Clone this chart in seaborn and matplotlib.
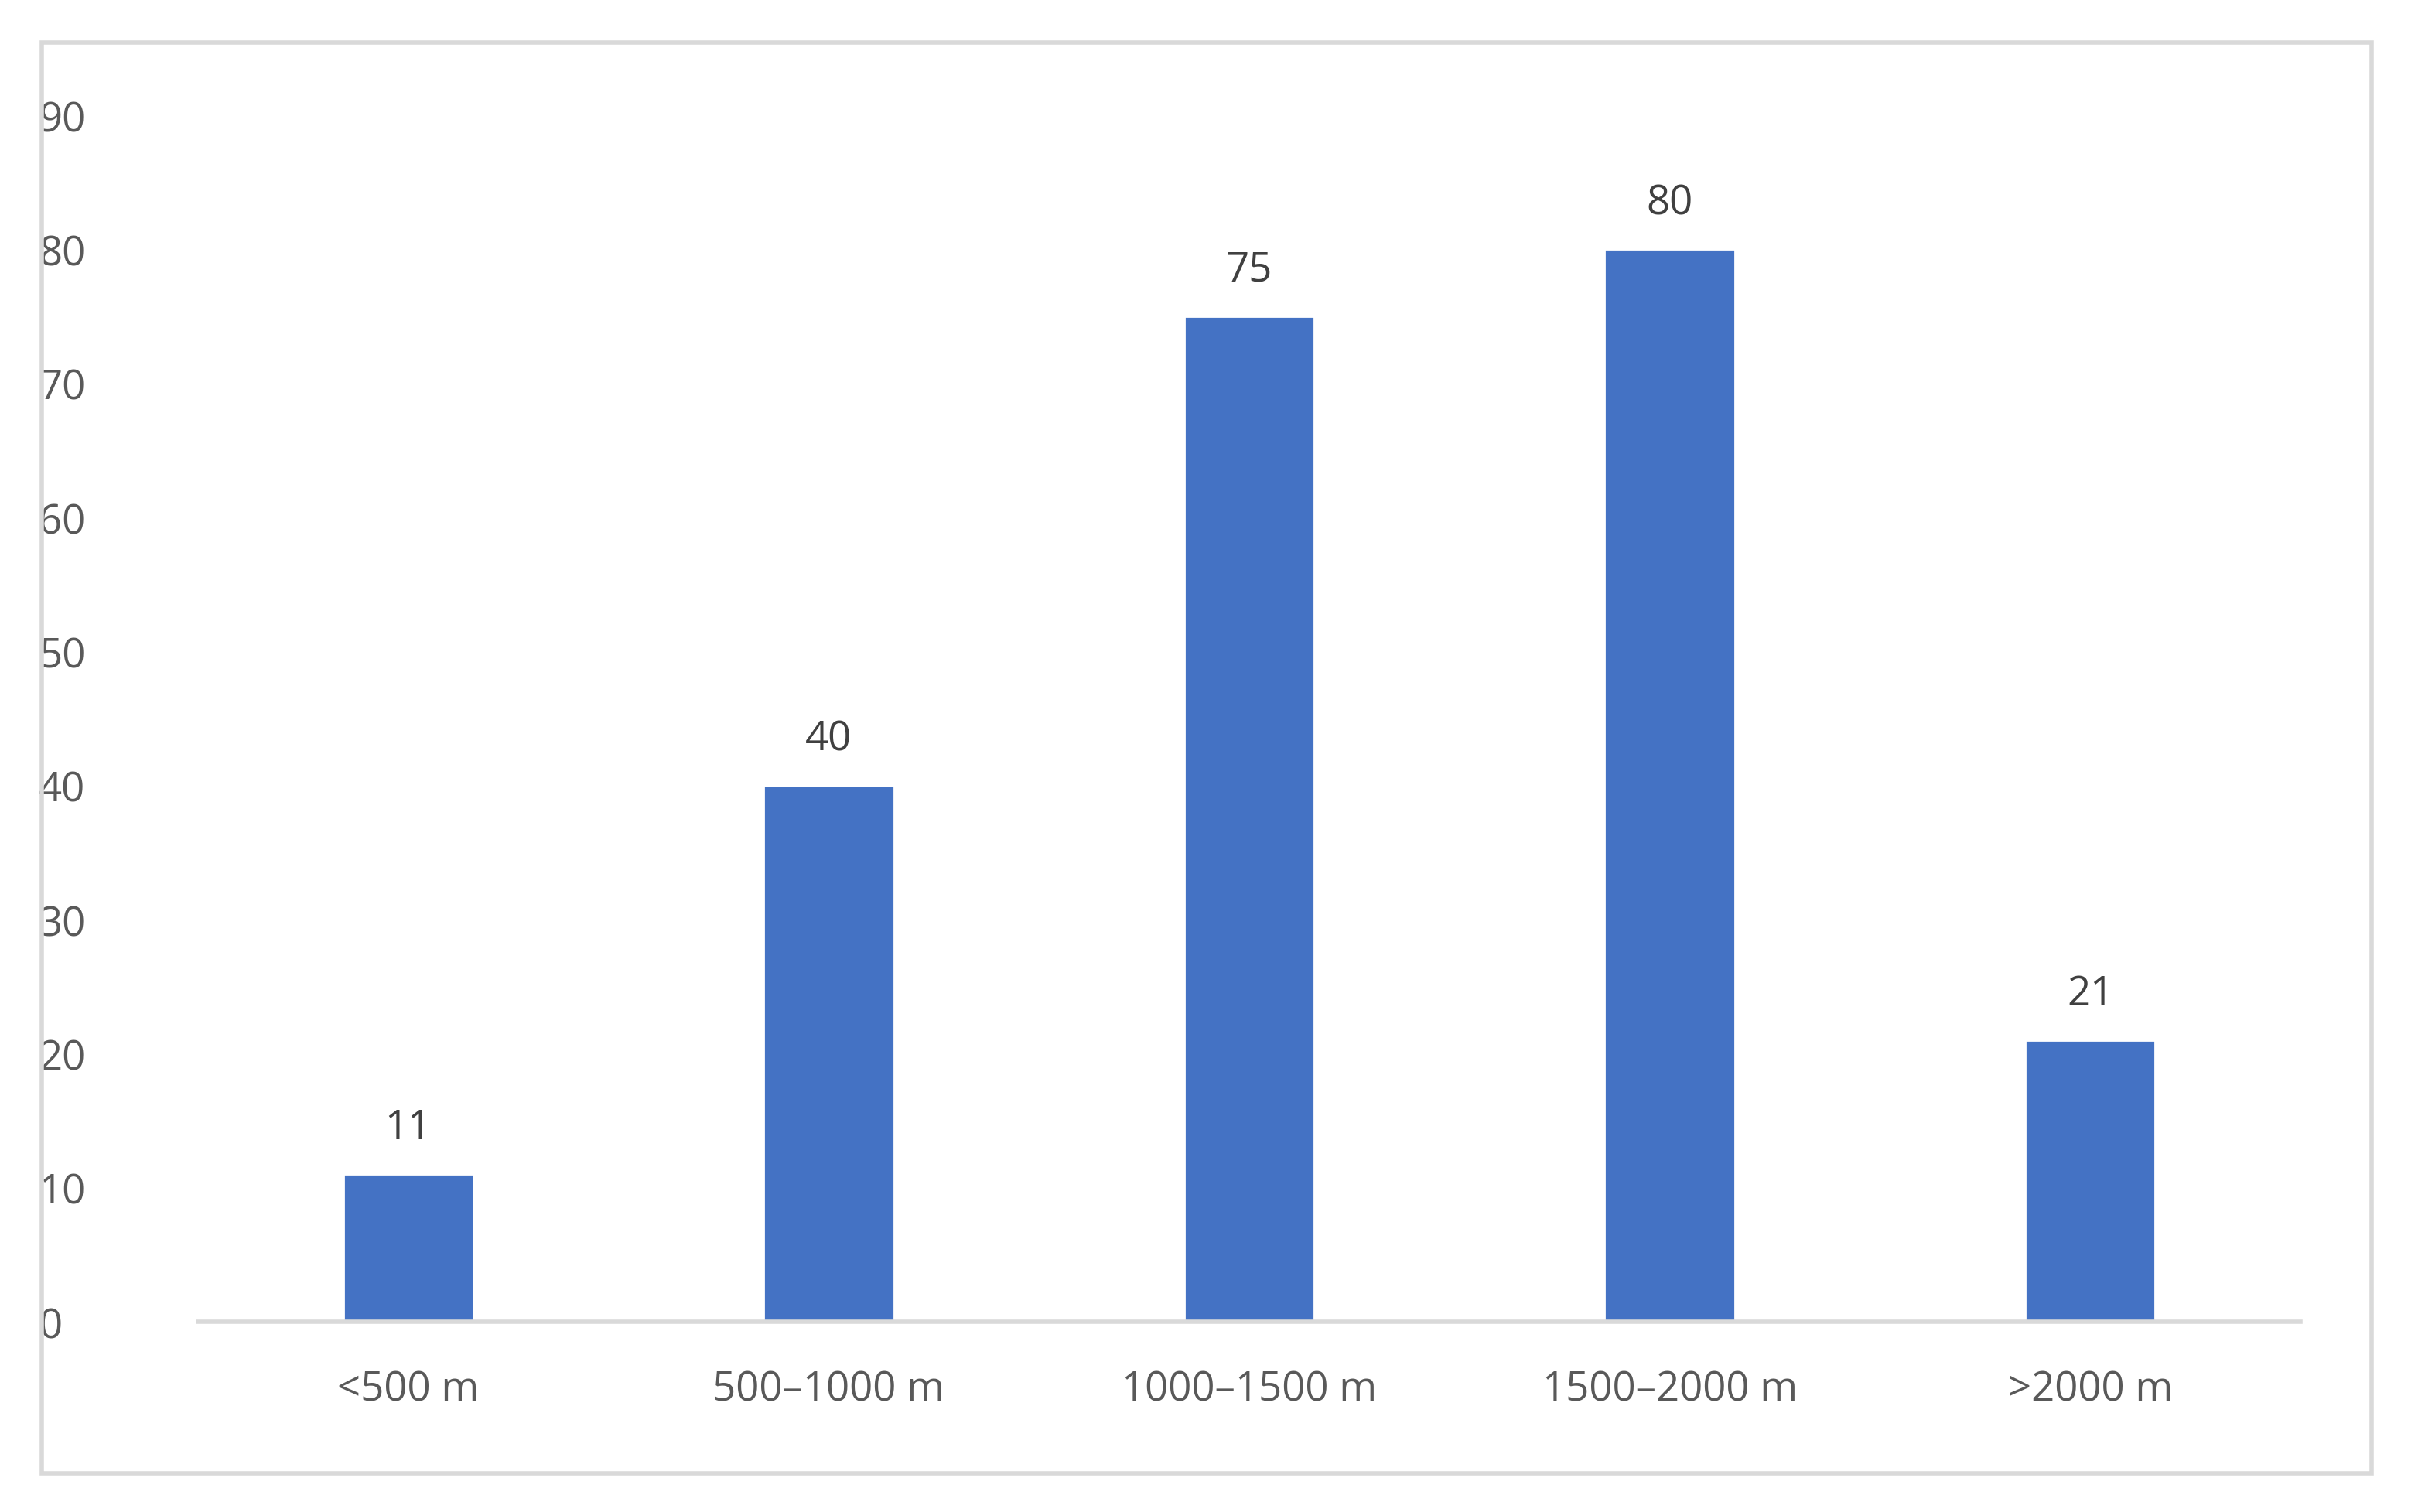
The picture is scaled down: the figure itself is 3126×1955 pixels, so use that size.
import matplotlib
matplotlib.use("Agg")
import matplotlib.pyplot as plt
import seaborn as sns
import pandas as pd
from matplotlib.patches import Rectangle

categories = ["<500 m", "500–1000 m", "1000–1500 m", "1500–2000 m", ">2000 m"]
values = [11, 40, 75, 80, 21]
yticks = [0, 10, 20, 30, 40, 50, 60, 70, 80, 90]

sns.set_theme(style="white")
plt.rcParams['font.family'] = ['Open Sans', 'DejaVu Sans']

fig = plt.figure(figsize=(15.63, 9.78), dpi=200)
fig.patches.append(Rectangle((27/1563, 1-953/978), (1533-27)/1563, (953-28)/978,
                             transform=fig.transFigure, fill=False, edgecolor="#d9d9d9", lw=2))
ax = fig.add_axes([128/1563, 1-855/978, (1487-128)/1563, (855-75)/978])
df = pd.DataFrame({"cat": categories, "val": values})
sns.barplot(data=df, x="cat", y="val", color="#4472c4", width=0.31, saturation=1, ax=ax)
ax.set_xlim(-0.5, 4.5)
ax.set_ylim(0, 90)
ax.set_yticks(yticks)
ax.set_xlabel("")
ax.set_ylabel("")
for s in ["top", "right", "left"]:
    ax.spines[s].set_visible(False)
ax.spines["bottom"].set_color("#d9d9d9")
ax.spines["bottom"].set_linewidth(2)
ax.tick_params(axis="both", length=0, labelsize=19, colors="#595959")
ax.tick_params(axis="x", pad=22)
ax.tick_params(axis="y", pad=30)
for lab in ax.get_yticklabels():
    lab.set_horizontalalignment("left")
    lab.set_x(-0.045)
for c in ax.containers:
    ax.bar_label(c, labels=[str(v) for v in values], padding=12, fontsize=19, color="#404040")
fig.savefig("out.png", dpi=200)
